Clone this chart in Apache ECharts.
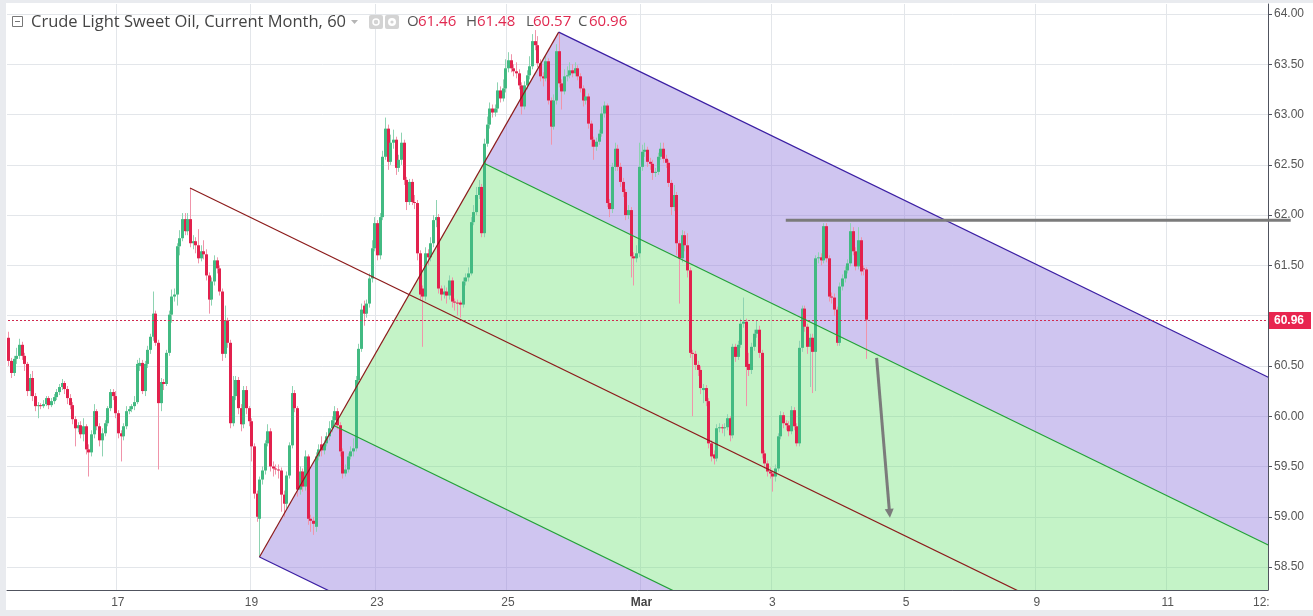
<!DOCTYPE html>
<html><head><meta charset="utf-8">
<script src="https://cdn.jsdelivr.net/npm/echarts@6/dist/echarts.min.js"></script>
<style>html,body{margin:0;padding:0;background:#fff;overflow:hidden}#c{width:1313px;height:616px}</style>
</head><body><div id="c"></div>
<script>
// ---------- data (hourly bars) ----------
const opens = [
60.78,60.55,60.43,60.57,60.60,60.71,60.60,60.52,60.25,60.38,
60.20,60.10,60.11,60.10,60.12,60.18,60.11,60.15,60.19,60.24,
60.29,60.33,60.27,60.18,60.11,59.97,59.88,59.91,59.82,59.90,
59.67,59.64,59.82,60.05,59.90,59.76,59.83,59.93,60.08,60.24,
60.20,60.03,59.83,59.80,59.90,60.05,60.07,60.10,60.14,60.50,
60.53,60.25,60.52,60.66,60.79,61.02,60.73,60.13,60.34,60.32,
60.63,61.01,61.19,61.21,61.69,61.77,61.96,61.84,61.96,61.72,
61.74,61.70,61.57,61.64,61.61,61.40,61.16,61.34,61.55,61.47,
61.24,60.62,60.95,60.73,59.93,60.20,60.36,60.08,59.92,60.26,
60.08,59.95,59.70,59.23,58.98,59.37,59.46,59.73,59.85,59.50,
59.48,59.47,59.46,59.22,59.13,59.41,59.71,60.23,60.08,59.27,
59.45,59.30,59.60,58.98,58.96,58.90,59.60,59.72,59.66,59.73,
59.80,59.88,59.96,60.05,59.91,59.65,59.43,59.47,59.60,59.65,
59.68,60.36,60.67,61.10,61.02,61.12,61.37,61.67,61.92,61.60,
61.98,62.58,62.86,62.53,62.72,62.75,62.47,62.55,62.72,62.35,
62.13,62.33,62.13,62.12,61.62,61.27,61.19,61.62,61.58,61.72,
61.95,61.98,61.27,61.21,61.24,61.20,61.35,61.14,61.13,61.13,
61.11,61.34,61.38,61.42,61.93,62.03,62.20,62.28,61.82,62.71,
62.90,63.06,63.02,63.06,63.24,63.16,63.26,63.46,63.54,63.46,
63.43,63.41,63.29,63.08,63.29,63.39,63.48,63.73,63.69,63.51,
63.38,63.36,63.53,63.14,62.88,63.14,63.63,63.31,63.23,63.38,
63.39,63.44,63.41,63.46,63.38,63.26,63.14,63.18,62.91,62.75,
62.68,62.73,62.81,63.01,63.09,62.12,62.06,62.48,62.66,62.48,
62.33,62.23,62.00,62.05,61.59,61.57,61.62,62.48,62.63,62.65,
62.53,62.51,62.42,62.43,62.58,62.66,62.56,62.52,62.32,62.08,
62.20,61.72,61.57,61.80,61.70,61.45,60.63,60.62,60.51,60.46,
60.26,60.28,60.15,59.73,59.62,59.58,59.88,59.89,59.88,59.89,
59.98,59.81,60.69,60.59,60.71,60.92,60.94,60.52,60.46,60.69,
60.82,60.86,60.63,59.63,59.53,59.45,59.43,59.40,59.48,59.80,
60.01,59.93,59.91,59.85,60.06,59.90,59.73,60.68,61.07,60.89,
60.69,60.78,60.64,61.57,61.58,61.55,61.89,61.57,61.19,61.18,
61.06,60.73,61.29,61.37,61.45,61.52,61.84,61.64,61.49,61.75,
61.47,61.46];
const closes = [
60.55,60.43,60.57,60.60,60.71,60.60,60.52,60.25,60.38,60.20,
60.10,60.11,60.10,60.12,60.18,60.11,60.15,60.19,60.24,60.29,
60.33,60.27,60.18,60.11,59.97,59.88,59.91,59.82,59.90,59.67,
59.64,59.82,60.05,59.90,59.76,59.83,59.93,60.08,60.24,60.20,
60.03,59.83,59.80,59.90,60.05,60.07,60.10,60.14,60.52,60.53,
60.25,60.52,60.66,60.79,61.02,60.73,60.13,60.34,60.32,60.63,
61.01,61.19,61.21,61.69,61.77,61.96,61.84,61.96,61.72,61.74,
61.70,61.57,61.64,61.61,61.40,61.16,61.34,61.55,61.47,61.24,
60.62,60.95,60.73,59.93,60.20,60.36,60.08,59.92,60.26,60.08,
59.95,59.70,59.23,59.00,59.37,59.46,59.73,59.85,59.50,59.48,
59.47,59.46,59.22,59.13,59.41,59.71,60.23,60.08,59.27,59.45,
59.30,59.60,58.98,58.96,58.93,59.60,59.67,59.66,59.73,59.80,
59.88,59.96,60.05,59.91,59.65,59.43,59.47,59.60,59.65,59.68,
60.36,60.67,61.06,61.02,61.12,61.37,61.67,61.92,61.60,61.98,
62.58,62.86,62.53,62.72,62.75,62.47,62.55,62.72,62.35,62.13,
62.33,62.13,62.12,61.62,61.21,61.19,61.62,61.58,61.72,61.95,
61.98,61.27,61.21,61.24,61.20,61.35,61.14,61.13,61.12,61.11,
61.34,61.38,61.42,61.93,62.03,62.20,62.28,61.82,62.71,62.90,
63.06,63.02,63.06,63.24,63.16,63.26,63.46,63.54,63.46,63.43,
63.41,63.29,63.08,63.29,63.39,63.48,63.73,63.69,63.51,63.38,
63.36,63.53,63.14,62.88,63.14,63.63,63.31,63.23,63.38,63.39,
63.44,63.41,63.46,63.38,63.26,63.14,63.18,62.91,62.75,62.68,
62.73,62.81,63.01,63.09,62.12,62.06,62.48,62.66,62.48,62.33,
62.23,62.00,62.05,61.59,61.57,61.62,62.48,62.63,62.65,62.53,
62.51,62.42,62.43,62.58,62.66,62.56,62.52,62.32,62.08,62.20,
61.72,61.57,61.80,61.70,61.45,60.63,60.62,60.51,60.46,60.28,
60.28,60.15,59.73,59.60,59.58,59.88,59.89,59.88,59.89,59.98,
59.81,60.69,60.59,60.71,60.92,60.94,60.49,60.46,60.69,60.82,
60.86,60.63,59.63,59.53,59.45,59.43,59.40,59.48,59.80,60.01,
59.93,59.91,59.85,60.06,59.90,59.73,60.68,61.07,60.89,60.69,
60.78,60.64,61.57,61.58,61.55,61.89,61.57,61.19,61.18,61.06,
60.73,61.29,61.37,61.45,61.52,61.84,61.64,61.49,61.75,61.44,
61.46,60.96];
const lows = [
60.50,60.38,60.40,60.52,60.57,60.56,60.45,60.20,60.20,60.15,
60.05,59.98,60.07,60.08,60.10,60.07,60.09,60.12,60.16,60.21,
60.26,60.22,60.12,60.07,59.92,59.70,59.84,59.78,59.75,59.62,
59.40,59.60,59.78,59.86,59.70,59.60,59.80,59.90,60.05,60.16,
59.98,59.78,59.55,59.76,59.87,60.02,60.04,60.06,60.12,60.45,
60.22,60.20,60.48,60.62,60.75,60.70,59.47,60.05,60.26,60.30,
60.60,60.93,61.14,61.10,61.60,61.74,61.80,61.80,61.68,61.66,
61.62,61.52,61.54,61.56,61.35,61.02,61.10,61.30,61.42,61.20,
60.55,60.58,60.68,59.88,59.90,60.16,60.02,59.85,59.88,60.02,
59.90,59.55,59.18,58.95,58.60,59.32,59.42,59.70,59.45,59.40,
59.42,59.38,59.05,59.00,59.08,59.38,59.68,60.04,59.20,59.22,
59.25,59.26,58.92,58.85,58.82,58.85,59.56,59.60,59.62,59.70,
59.76,59.84,59.92,59.87,59.60,59.38,59.40,59.44,59.57,59.60,
59.65,60.33,60.64,60.90,60.98,61.08,61.33,61.64,61.55,61.56,
61.95,62.55,62.45,62.50,62.66,62.40,62.43,62.50,62.30,62.05,
62.10,62.10,62.06,61.55,61.15,60.69,61.15,61.50,61.54,61.68,
61.88,61.22,61.15,61.17,61.12,61.16,61.08,61.05,61.00,60.98,
61.08,61.30,61.34,61.40,61.90,62.00,62.16,61.78,61.78,62.68,
62.86,62.97,62.98,63.02,63.12,63.13,63.22,63.42,63.42,63.38,
63.36,63.25,63.00,63.05,63.25,63.35,63.45,63.64,63.47,63.33,
63.28,63.33,63.10,62.70,62.85,63.10,63.27,63.05,63.20,63.33,
63.36,63.37,63.38,63.34,63.22,63.08,63.10,62.86,62.68,62.55,
62.64,62.70,62.78,62.97,62.08,61.98,62.02,62.44,62.44,62.28,
62.18,61.95,61.96,61.38,61.30,61.53,61.58,62.44,62.58,62.48,
62.45,62.35,62.38,62.40,62.55,62.52,62.47,62.28,62.00,62.04,
61.60,61.12,61.53,61.64,61.38,60.58,60.00,60.46,60.40,60.22,
60.13,60.10,59.68,59.55,59.52,59.55,59.84,59.83,59.80,59.86,
59.75,59.78,60.54,60.56,60.68,60.88,60.10,60.40,60.42,60.65,
60.78,60.58,59.58,59.48,59.40,59.38,59.25,59.35,59.45,59.77,
59.88,59.86,59.80,59.82,59.86,59.70,59.70,60.64,60.84,60.62,
60.29,60.23,60.25,61.52,61.50,61.52,61.53,61.14,61.12,61.00,
60.70,60.70,61.25,61.33,61.42,61.49,61.60,61.45,61.46,61.40,
61.40,60.57];
const highs = [
60.84,60.58,60.60,60.68,60.77,60.74,60.63,60.54,60.42,60.45,
60.23,60.14,60.13,60.16,60.20,60.20,60.18,60.22,60.27,60.32,
60.37,60.35,60.30,60.22,60.14,60.00,59.94,59.95,59.98,59.92,
59.72,59.86,60.12,60.07,59.93,59.88,59.96,60.10,60.27,60.27,
60.25,60.06,59.86,59.93,60.10,60.10,60.12,60.20,60.56,60.58,
60.56,60.55,60.70,60.82,61.24,61.05,60.76,60.38,60.37,60.66,
61.05,61.26,61.27,61.72,61.85,62.02,62.02,62.02,62.27,61.80,
61.78,61.86,61.70,61.75,61.66,61.43,61.38,61.60,61.58,61.50,
61.27,61.10,60.98,60.76,60.40,60.40,60.39,60.12,60.30,60.30,
60.10,59.98,59.73,59.26,59.40,59.50,59.76,59.92,59.88,59.55,
59.52,59.52,59.49,59.26,59.45,59.74,60.30,60.26,60.10,59.50,
59.48,59.66,59.62,59.02,59.00,59.64,59.72,59.80,59.76,59.84,
59.95,60.00,60.10,60.08,59.94,59.68,59.52,59.63,59.70,59.78,
60.40,60.72,61.12,61.15,61.16,61.42,61.75,61.98,61.95,62.02,
62.64,62.97,62.90,62.80,62.85,62.78,62.60,62.82,62.75,62.38,
62.36,62.36,62.20,62.15,61.65,61.30,61.68,61.66,61.78,62.00,
62.15,62.01,61.30,61.30,61.28,61.40,61.38,61.17,61.16,61.15,
61.38,61.42,61.48,61.98,62.10,62.28,62.35,62.31,62.76,62.98,
63.12,63.10,63.10,63.32,63.28,63.35,63.55,63.62,63.60,63.50,
63.52,63.45,63.32,63.33,63.44,63.58,63.80,63.84,63.78,63.55,
63.42,63.58,63.56,63.17,63.20,63.70,63.82,63.35,63.45,63.48,
63.52,63.50,63.52,63.49,63.41,63.29,63.25,63.21,62.94,62.78,
62.77,62.85,63.08,63.13,63.11,62.16,62.52,62.72,62.70,62.52,
62.37,62.26,62.10,62.08,61.63,61.70,62.72,62.70,62.72,62.68,
62.57,62.55,62.47,62.62,62.72,62.72,62.60,62.55,62.35,62.30,
62.23,61.75,61.85,61.84,61.82,61.48,60.66,60.65,60.55,60.50,
60.32,60.31,60.18,59.76,59.66,59.92,59.93,59.92,59.93,60.02,
60.00,60.72,60.72,60.75,60.97,61.18,60.97,60.63,60.73,60.86,
60.95,60.90,60.66,59.66,59.56,59.49,59.46,59.52,59.83,60.05,
60.04,59.96,59.95,60.10,60.09,59.93,60.75,61.10,61.10,60.92,
60.82,60.82,61.60,61.63,61.62,61.92,61.92,61.60,61.23,61.22,
61.09,61.33,61.41,61.49,61.56,61.92,61.88,61.68,61.88,61.78,
61.50,61.48];

const categoryCount = 472;                 // bar slots incl. empty future area
const tickIndices = [41, 91, 138, 187, 237, 286, 336, 385, 434, 469];
const tickLabels  = ['17', '19', '23', '25', 'Mar', '3', '5', '9', '11', '12:'];
const priceTicks  = [58.5, 59, 59.5, 60, 60.5, 61, 61.5, 62, 62.5, 63, 63.5, 64];
const priceLabels = [58.5, 59, 59.5, 60, 60.5, 61.5, 62, 62.5, 63, 63.5, 64];
const lastPrice = 60.96;
const lastBar = { o: '61.46', h: '61.48', l: '60.57', c: '60.96' };
const titleText = 'Crude Light Sweet Oil, Current Month, 60';

// drawings (anchor points as [bar index, price])
const pitchforkPoints = [[68, 62.27], [94, 58.60], [206, 63.82]];
const levelLine = [[291, 61.95], [480, 61.95]];
const arrowLine = [[325, 60.58], [330, 58.99]];

// ---------- styling ----------
const Y_MIN = 58.2715, Y_MAX = 64.0995;
const UP = '#42ba82', DOWN = '#e2214d', UP_WICK = '#8ed3b2', DOWN_WICK = '#f094aa';
const PURPLE_FILL = 'rgba(150,128,222,0.46)', GREEN_FILL = 'rgba(112,226,120,0.41)';
const TINE = '#3b1fa3', INNER = '#22a038', MEDIAN = '#8c1b1b';

const categories = Array.from({ length: categoryCount }, (_, i) => {
  const k = tickIndices.indexOf(i); return k >= 0 ? tickLabels[k] : '';
});
const tickSet = new Set(tickIndices);
const gridSet = new Set(tickIndices.slice(0, -1));
const candleData = opens.map((o, i) => [i, o, closes[i], lows[i], highs[i]]);

function pitchGeom() {
  const [p1, p2, p3] = pitchforkPoints;
  const m = [(p2[0] + p3[0]) / 2, (p2[1] + p3[1]) / 2];
  const slope = (m[1] - p1[1]) / (m[0] - p1[0]);
  const u = [(m[0] + p3[0]) / 2, (m[1] + p3[1]) / 2];
  const l = [(m[0] + p2[0]) / 2, (m[1] + p2[1]) / 2];
  const R = 480;
  const ext = a => [R, a[1] + slope * (R - a[0])];
  return { p1, p2, p3, m, u, l, ext };
}

function renderFills(params, api) {
  const g = pitchGeom(); const c = p => api.coord(p);
  const poly = (pts, fill) => ({ type: 'polygon', shape: { points: pts.map(c) }, style: { fill: fill } });
  return { type: 'group', children: [
    poly([g.p3, g.ext(g.p3), g.ext(g.u), g.u], PURPLE_FILL),
    poly([g.u, g.ext(g.u), g.ext(g.l), g.l], GREEN_FILL),
    poly([g.l, g.ext(g.l), g.ext(g.p2), g.p2], PURPLE_FILL)
  ]};
}
function renderLines(params, api) {
  const g = pitchGeom(); const c = p => api.coord(p);
  const seg = (a, b, col) => { const A = c(a), B = c(b); return { type: 'line', shape: { x1: A[0], y1: A[1], x2: B[0], y2: B[1] }, style: { stroke: col, lineWidth: 1.2 } }; };
  const yP = c([0, lastPrice])[1];
  return { type: 'group', children: [
    seg(g.p2, g.p3, MEDIAN),
    seg(g.p1, g.ext(g.p1), MEDIAN),
    seg(g.p3, g.ext(g.p3), TINE),
    seg(g.p2, g.ext(g.p2), TINE),
    seg(g.u, g.ext(g.u), INNER),
    seg(g.l, g.ext(g.l), INNER),
    { type: 'line', shape: { x1: 0, y1: Math.round(yP) + 0.5, x2: 1313, y2: Math.round(yP) + 0.5 },
      style: { stroke: '#d02a4f', lineWidth: 1, lineDash: [2, 2] } }
  ]};
}
function renderMarks(params, api) {
  const a = api.coord(levelLine[0]), b = api.coord(levelLine[1]);
  const s = api.coord(arrowLine[0]), e = api.coord(arrowLine[1]);
  const dx = e[0] - s[0], dy = e[1] - s[1], len = Math.hypot(dx, dy);
  const ux = dx / len, uy = dy / len, hl = 9, hw = 4.5;
  const bx = e[0] - ux * hl, by = e[1] - uy * hl;
  return { type: 'group', children: [
    { type: 'line', shape: { x1: a[0], y1: a[1], x2: b[0], y2: b[1] }, style: { stroke: '#7b7b7b', lineWidth: 3 } },
    { type: 'line', shape: { x1: s[0], y1: s[1], x2: bx + ux * 2, y2: by + uy * 2 }, style: { stroke: '#7b7b7b', lineWidth: 3 } },
    { type: 'polygon', shape: { points: [[e[0], e[1]], [bx - uy * hw, by + ux * hw], [bx + uy * hw, by - ux * hw]] }, style: { fill: '#7b7b7b' } }
  ]};
}
function renderCandle(params, api) {
  const i = api.value(0), o = api.value(1), cl = api.value(2), lo = api.value(3), hi = api.value(4);
  const pO = api.coord([i, o]), pC = api.coord([i, cl]), pL = api.coord([i, lo]), pH = api.coord([i, hi]);
  const up = cl >= o;
  const cx = Math.round(pO[0]);
  const top = Math.min(pO[1], pC[1]), bot = Math.max(pO[1], pC[1]);
  return { type: 'group', children: [
    { type: 'line', shape: { x1: cx + 0.5, y1: pH[1], x2: cx + 0.5, y2: pL[1] }, style: { stroke: up ? UP_WICK : DOWN_WICK, lineWidth: 1 } },
    { type: 'rect', shape: { x: cx - 1, y: top, width: 3, height: Math.max(bot - top, 1) }, style: { fill: up ? UP : DOWN } }
  ]};
}

const chart = echarts.init(document.getElementById('c'));
chart.setOption({
  animation: false,
  backgroundColor: '#ffffff',
  grid: { left: 7, right: 45, top: 4, bottom: 26, outerBoundsMode: 'none' },
  xAxis: {
    type: 'category', data: categories, boundaryGap: true,
    axisLine: { lineStyle: { color: '#50535e', width: 1 } },
    axisTick: { show: false, alignWithLabel: true },
    axisLabel: {
      interval: i => tickSet.has(i), color: '#555', fontSize: 12, fontFamily: 'Liberation Sans', margin: 7,
      formatter: v => v === 'Mar' ? '{b|Mar}' : v,
      rich: { b: { fontWeight: 'bold', color: '#444', fontSize: 12, fontFamily: 'Liberation Sans' } }
    },
    splitLine: { show: true, interval: i => gridSet.has(i), lineStyle: { color: '#e3e6ea', width: 1 } }
  },
  yAxis: {
    type: 'value', position: 'right', min: Y_MIN, max: Y_MAX,
    axisLine: { show: true, lineStyle: { color: '#50535e', width: 1 } },
    axisTick: { show: true, length: 4, customValues: priceTicks, lineStyle: { color: '#50535e' } },
    axisLabel: { customValues: priceLabels, formatter: v => v.toFixed(2), color: '#555', fontSize: 12, fontFamily: 'Liberation Sans', margin: 6 },
    splitLine: { show: true, lineStyle: { color: '#e3e6ea', width: 1 } }
  },
  series: [
    { type: 'custom', name: 'fills', data: [[0, 60]], renderItem: renderFills, clip: true, silent: true, z: 2 },
    { type: 'custom', name: 'candles', data: candleData, encode: { x: 0, y: [1, 2, 3, 4] }, renderItem: renderCandle, clip: true, z: 3 },
    { type: 'custom', name: 'pitchfork', data: [[0, 60]], renderItem: renderLines, clip: true, silent: true, z: 4 },
    { type: 'custom', name: 'marks', data: [[0, 60]], renderItem: renderMarks, clip: false, silent: true, z: 5 }
  ]
});

// header + price tag
const py = chart.convertToPixel({ yAxisIndex: 0 }, lastPrice);
const txt = (x, t, col, size) => ({ type: 'text', x: x, y: 22, z: 100, style: { text: t, fill: col, font: size + 'px "Open Sans"', verticalAlign: 'middle' } });
chart.setOption({ graphic: [
  { type: 'rect', z: 100, shape: { x: 0, y: 0, width: 6, height: 616 }, style: { fill: '#e9ebef' } },
  { type: 'rect', z: 100, shape: { x: 0, y: 0, width: 1313, height: 3 }, style: { fill: '#e9ebef' } },
  { type: 'rect', z: 100, shape: { x: 0, y: 610, width: 1313, height: 6 }, style: { fill: '#e9ebef' } },
  { type: 'rect', z: 100, shape: { x: 12.5, y: 16.5, width: 10, height: 10 }, style: { fill: 'none', stroke: '#777', lineWidth: 1 } },
  { type: 'line', z: 100, shape: { x1: 15, y1: 21.5, x2: 20, y2: 21.5 }, style: { stroke: '#777', lineWidth: 1 } },
  txt(31, titleText, '#444', 16.5),
  { type: 'polygon', z: 100, shape: { points: [[351, 20], [358, 20], [354.5, 24]] }, style: { fill: '#b5b5b5' } },
  { type: 'rect', z: 100, shape: { x: 369, y: 15, width: 14, height: 14, r: 2 }, style: { fill: '#d3d3d3' } },
  { type: 'circle', z: 100, shape: { cx: 376, cy: 22, r: 3 }, style: { fill: 'none', stroke: '#fff', lineWidth: 1.5 } },
  { type: 'rect', z: 100, shape: { x: 385, y: 15, width: 14, height: 14, r: 2 }, style: { fill: '#d3d3d3' } },
  { type: 'circle', z: 100, shape: { cx: 392, cy: 22, r: 4 }, style: { fill: '#fff' } },
  { type: 'circle', z: 100, shape: { cx: 392, cy: 22, r: 1.6 }, style: { fill: '#d3d3d3' } },
  txt(407, 'O', '#555', 15), txt(418, lastBar.o, '#e0284f', 15),
  txt(466, 'H', '#555', 15), txt(477, lastBar.h, '#e0284f', 15),
  txt(526, 'L', '#555', 15), txt(533, lastBar.l, '#e0284f', 15),
  txt(578, 'C', '#555', 15), txt(589, lastBar.c, '#e0284f', 15),
  { type: 'rect', z: 101, shape: { x: 1269, y: Math.round(py) - 8, width: 42, height: 17 }, style: { fill: '#e8254f' } },
  { type: 'text', z: 102, x: 1274, y: Math.round(py) + 0.5, style: { text: lastPrice.toFixed(2), fill: '#fff', font: 'bold 12px "Liberation Sans"', verticalAlign: 'middle' } }
]});
</script>
</body></html>
